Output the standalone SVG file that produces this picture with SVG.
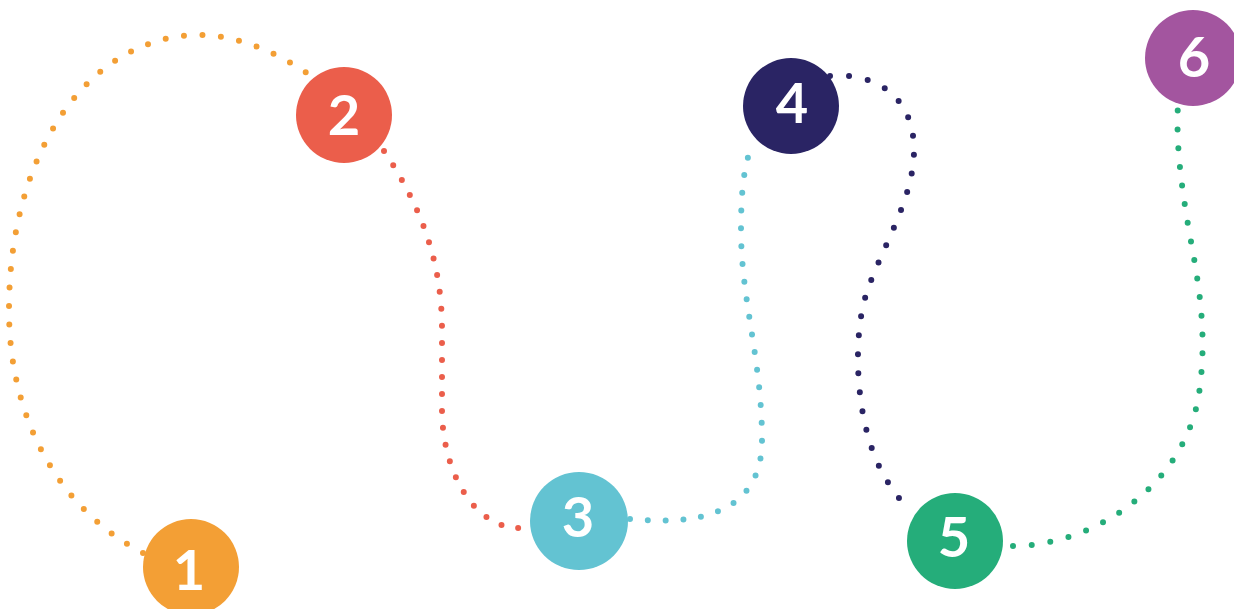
<svg xmlns="http://www.w3.org/2000/svg" width="1234" height="609" viewBox="0 0 1234 609">
<style>
.dots{fill:none;stroke-width:6;stroke-linecap:round;stroke-dasharray:0 18.5}
.num{fill:#fff;font-family:Lato,"Open Sans",sans-serif;font-weight:700;font-size:56px;text-anchor:middle}
</style>
<rect width="1234" height="609" fill="#fff"/>
<g id="connectors">
<path class="dots" stroke="#F39F35" d="M143,553 C60,510 9,420 9,310 C9,150 90,35 200,35 C240,35 280,55 307,73"/>
<path class="dots" stroke="#EB5E4B" style="stroke-dasharray:0 17" d="M384,151 C420,205 442,260 442,330 L442,410 C442,465 470,528 520,528"/>
<path class="dots" stroke="#63C3D2" style="stroke-dasharray:0 17.8" d="M630,519 C720,528 762,500 762,440 C762,360 741,300 741,230 C741,190 744,170 750,150"/>
<path class="dots" stroke="#2A2464" style="stroke-dasharray:0 19" d="M830,76 C880,72 914,100 914,150 C914,200 880,250 866,295 C852,340 856,420 880,468 C890,488 900,500 908,508"/>
<path class="dots" stroke="#25AD7A" style="stroke-dasharray:0 18.8" d="M1013,546 C1090,546 1180,490 1198,400 C1208,340 1200,290 1190,236 C1180,180 1176,140 1178,104"/>
</g>
<g id="node1"><circle cx="191" cy="567" r="48" fill="#F39F35"/><text class="num" x="189" y="590">1</text></g>
<g id="node2"><circle cx="344" cy="115" r="48" fill="#EB5E4B"/><text class="num" x="344" y="135">2</text></g>
<g id="node3"><circle cx="579" cy="521" r="49" fill="#63C3D2"/><text class="num" x="578" y="537">3</text></g>
<g id="node4"><circle cx="791" cy="106" r="48" fill="#2A2464"/><text class="num" x="792" y="123">4</text></g>
<g id="node5"><circle cx="955" cy="541" r="48" fill="#25AD7A"/><text class="num" x="954" y="557">5</text></g>
<g id="node6"><circle cx="1193" cy="58" r="48" fill="#A3559F"/><text class="num" x="1194" y="77">6</text></g>
</svg>
